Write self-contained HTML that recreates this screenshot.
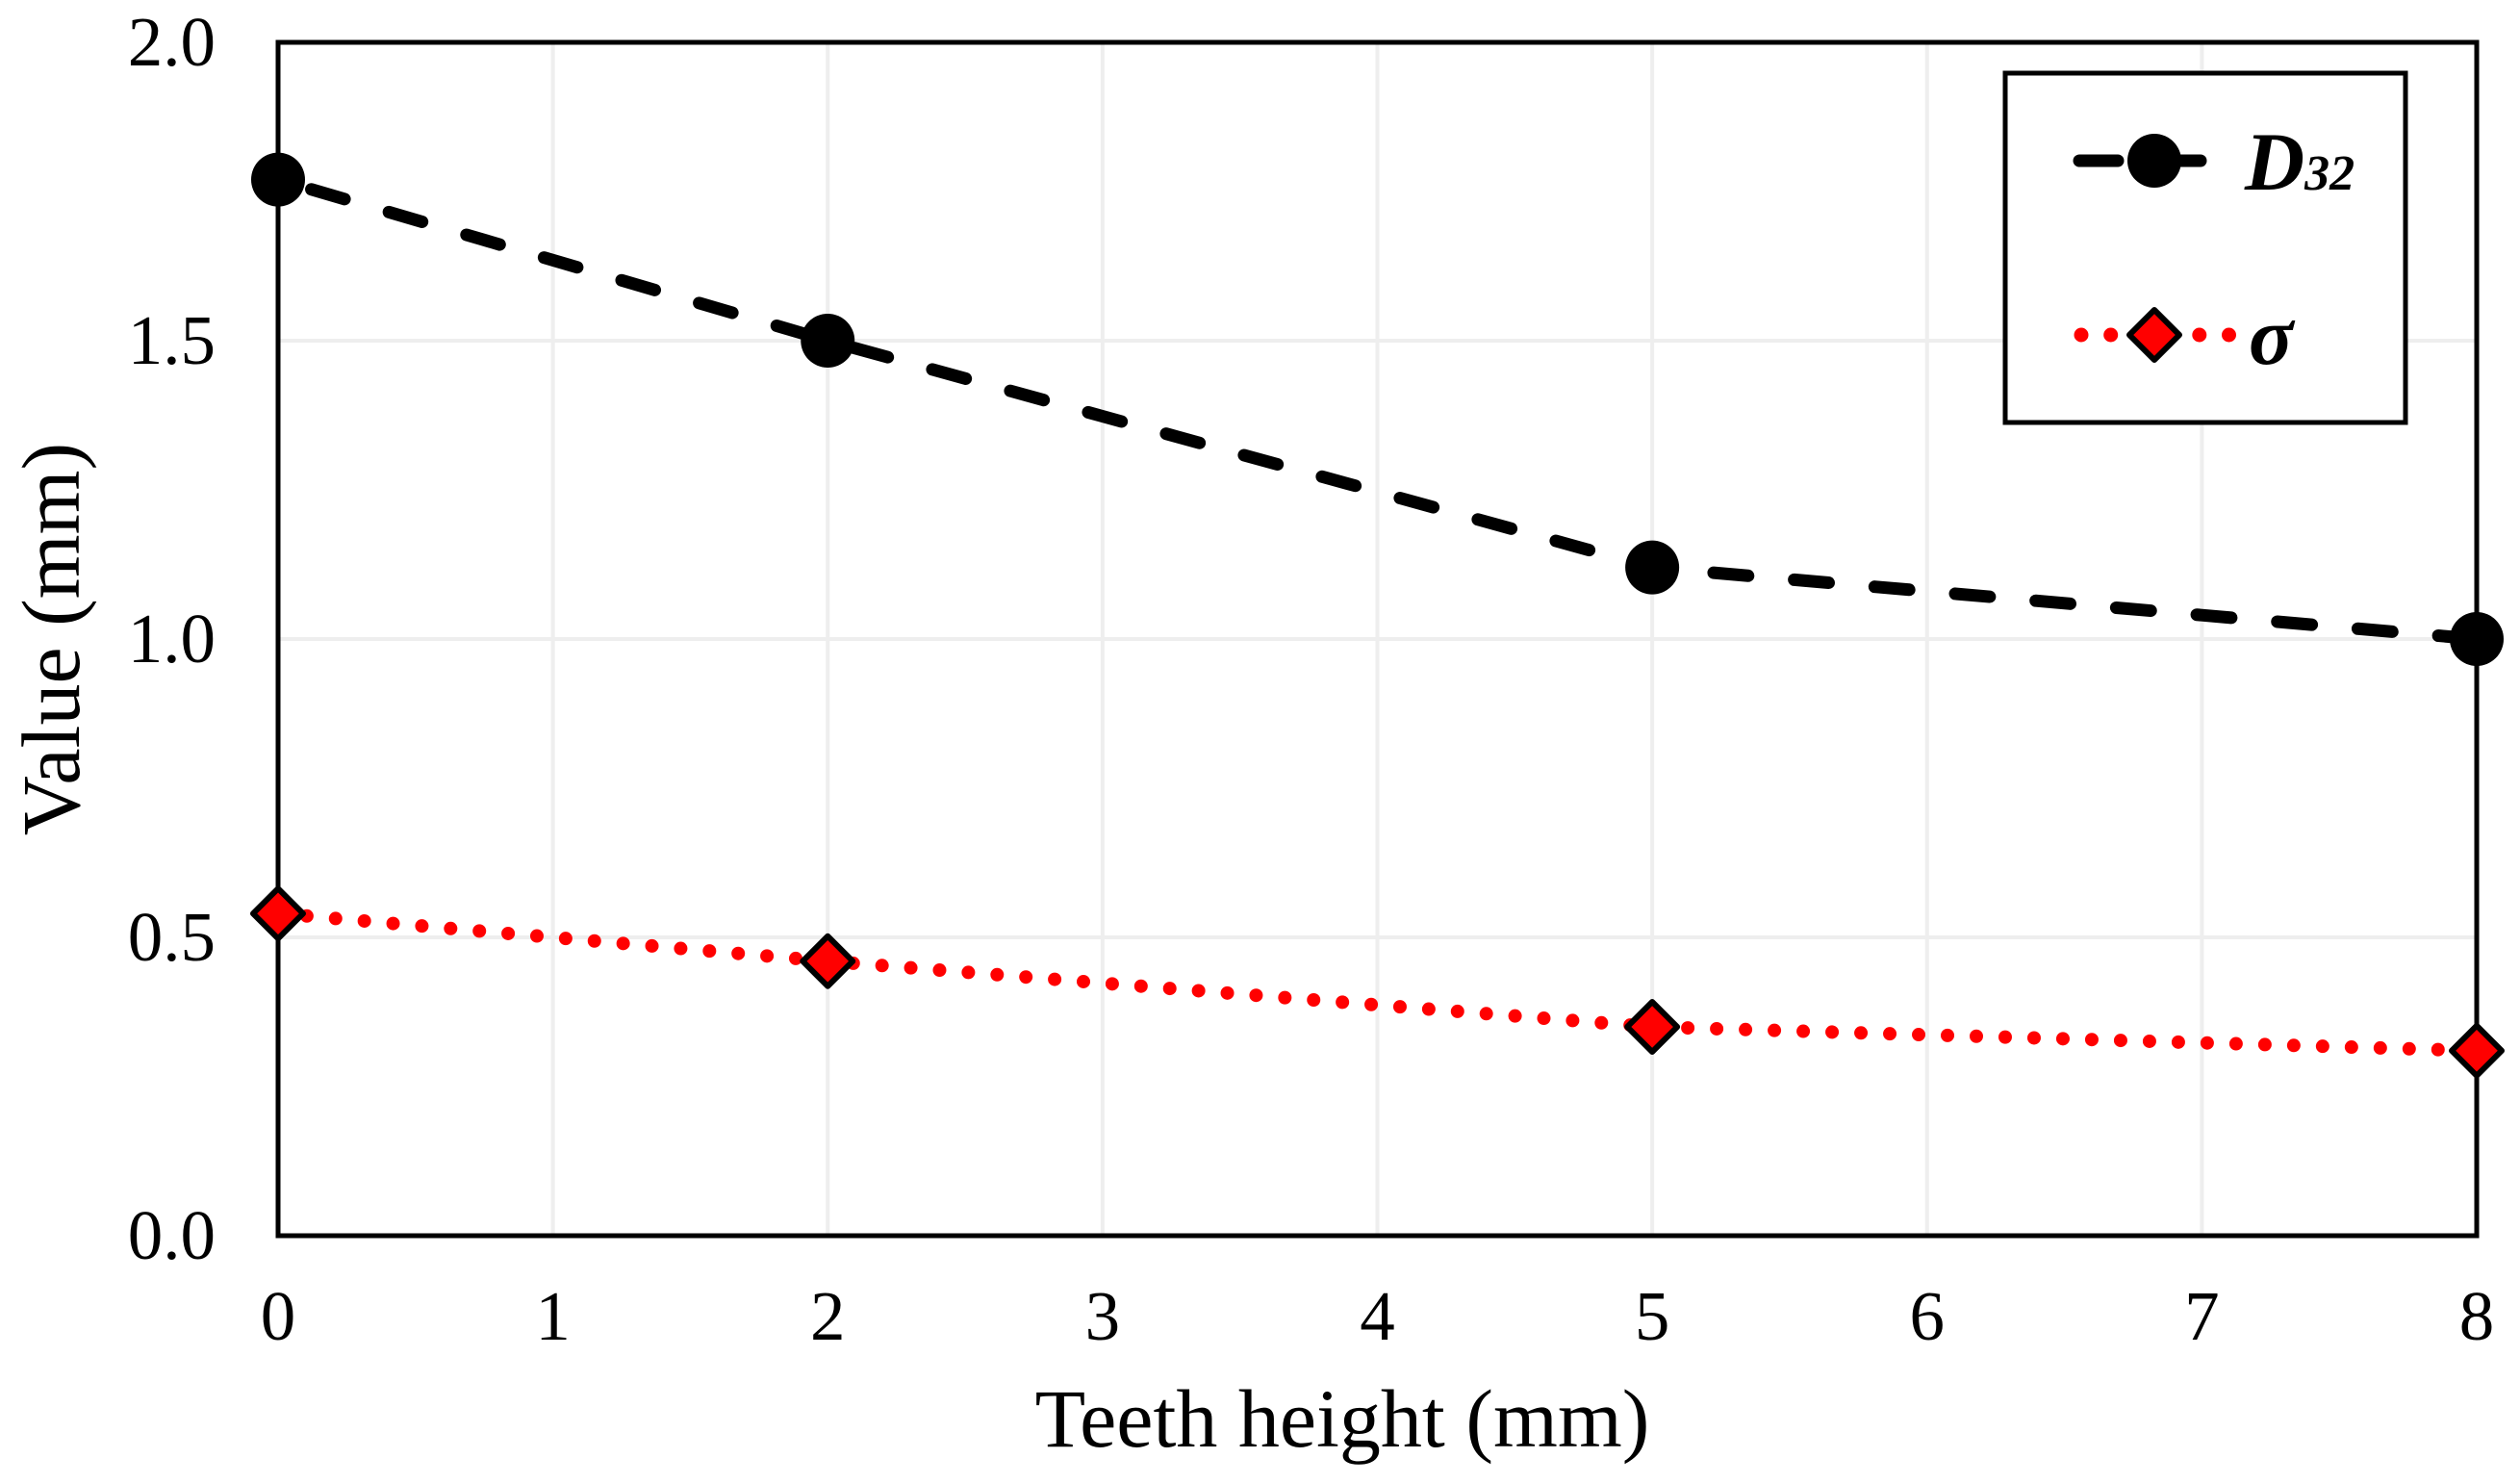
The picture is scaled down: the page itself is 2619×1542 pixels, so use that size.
<!DOCTYPE html>
<html><head><meta charset="utf-8"><style>
html,body{margin:0;padding:0;background:#fff;}
svg{display:block;font-family:"Liberation Serif",serif;}
</style></head><body>
<svg id="chart" width="2619" height="1542" viewBox="0 0 2619 1542">
<rect width="2619" height="1542" fill="#fff"/>
<g id="grid"></g>
<g id="lines"></g>
<rect x="289" y="44" width="2285" height="1240" fill="none" stroke="#000" stroke-width="5"/>
<g id="marks"></g>
<g id="ticks" font-size="73" fill="#000"></g>
<text x="1395" y="1503" font-size="86" text-anchor="middle">Teeth height (mm)</text>
<text transform="translate(82,664) rotate(-90)" font-size="86" text-anchor="middle">Value (mm)</text>
<g>
<rect x="2084" y="76" width="416" height="363" fill="#fff" stroke="#000" stroke-width="5"/>
<line x1="2161" y1="167" x2="2287" y2="167" stroke="#000" stroke-width="13" stroke-linecap="round" stroke-dasharray="40,50" stroke-dashoffset="0"/>
<circle cx="2239" cy="167" r="28" fill="#000"/>
<text x="2333" y="197" font-size="86" font-weight="bold" font-style="italic">D<tspan font-size="52" dy="0">32</tspan></text>
<line x1="2163" y1="348" x2="2317" y2="348" stroke="#f00" stroke-width="15" stroke-linecap="round" stroke-dasharray="0,30.7"/>
<rect x="2220" y="329" width="38" height="38" fill="#fff" stroke="none"/>
<path d="M2239 322 L2265 348 L2239 374 L2213 348 Z" fill="#f00" stroke="#000" stroke-width="6" stroke-linejoin="round"/>
<text x="2337" y="378" font-size="86" font-weight="bold" font-style="italic">σ</text>
</g>
</svg>
<script>
const xValues = [0, 2, 5, 8];
const d32Values = [1.77, 1.50, 1.12, 1.00];
const sigmaValues = [0.54, 0.46, 0.35, 0.31];
const xTicks = [0,1,2,3,4,5,6,7,8];
const yTicks = ["0.0","0.5","1.0","1.5","2.0"];
const NS='http://www.w3.org/2000/svg';
const X0=289,X1=2574,Y0=1284,Y1=44;
const sx=v=>X0+(v-0)/(8-0)*(X1-X0);
const sy=v=>Y0-(v-0)/(2-0)*(Y0-Y1);
function mk(tag,attrs,parent){const e=document.createElementNS(NS,tag);for(const k in attrs)e.setAttribute(k,attrs[k]);parent.appendChild(e);return e;}
const grid=document.getElementById('grid'),ticks=document.getElementById('ticks'),lines=document.getElementById('lines'),marks=document.getElementById('marks');
xTicks.forEach(t=>{
  const g=mk('line',{x1:sx(t),x2:sx(t),y1:Y1,y2:Y0,stroke:'#eeeeee','stroke-width':4},grid);
  
  
  const l=mk('text',{x:sx(t),y:1392,'text-anchor':'middle'},ticks);
  l.textContent=t;
  
  
});
yTicks.forEach(t=>{
  const v=parseFloat(t);
  const g=mk('line',{x1:X0,x2:X1,y1:sy(v),y2:sy(v),stroke:'#eeeeee','stroke-width':4},grid);
  
  
  const l=mk('text',{x:224,y:sy(v)+24,'text-anchor':'end'},ticks);
  l.textContent=t;
  
  
});
const dPts=xValues.map((x,i)=>sx(x)+','+sy(d32Values[i])).join(' ');
const sPts=xValues.map((x,i)=>sx(x)+','+sy(sigmaValues[i])).join(' ');
const dl=mk('polyline',{points:dPts,fill:'none',stroke:'#000','stroke-width':13,'stroke-linecap':'round','stroke-dasharray':'36,48','stroke-dashoffset':'-36'},lines);


const sl=mk('polyline',{points:sPts,fill:'none',stroke:'#f00','stroke-width':14,'stroke-linecap':'round','stroke-dasharray':'0,30'},lines);


xValues.forEach((x,i)=>{
  const c=mk('circle',{cx:sx(x),cy:sy(d32Values[i]),r:28,fill:'#000'},marks);
  
  
  const cx=sx(x),cy=sy(sigmaValues[i]),r=26;
  const d=mk('path',{d:`M${cx} ${cy-r} L${cx+r} ${cy} L${cx} ${cy+r} L${cx-r} ${cy} Z`,fill:'#f00',stroke:'#000','stroke-width':6,'stroke-linejoin':'round'},marks);
  
  
});
</script>
</body></html>
